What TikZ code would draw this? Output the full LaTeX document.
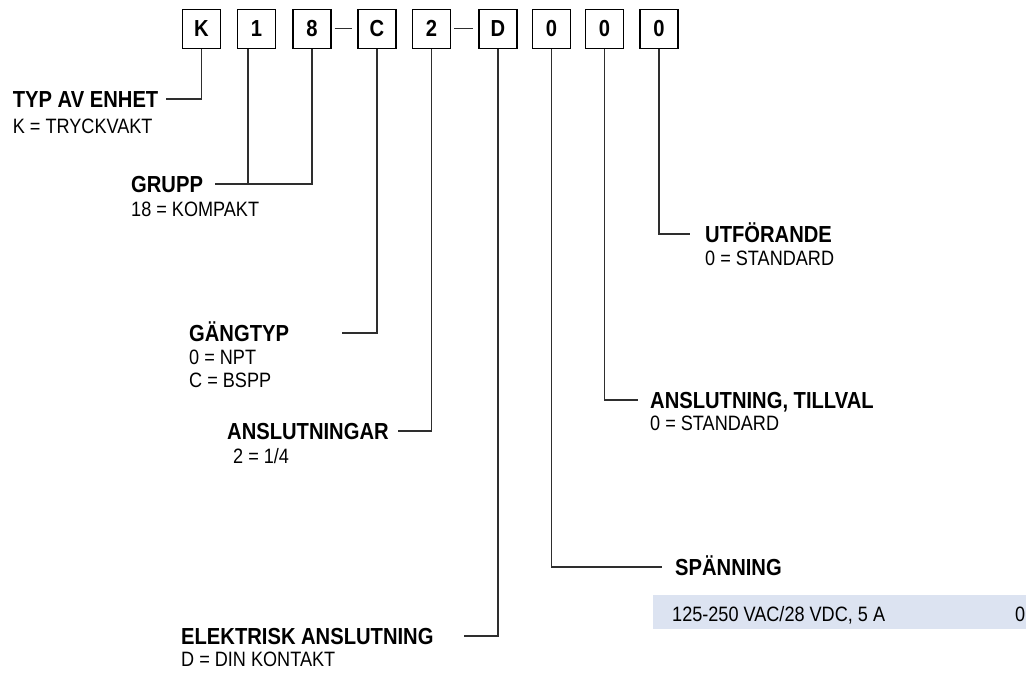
\documentclass[tikz,border=0pt]{standalone}
\usepackage{fontspec}
\setmainfont[FakeStretch=0.87]{Liberation Sans}
\usepackage{tikz}
\definecolor{lineInk}{HTML}{2E2E2E}
\definecolor{voltFill}{HTML}{DCE3F1}
\tikzset{
  digit/.style = {draw=black, line width=1.1pt, minimum width=38pt, minimum height=39pt,
                  inner sep=0pt, font=\bfseries\fontsize{23.2}{27}\selectfont},
  head/.style  = {inner sep=0pt, text height=16.6pt, text depth=0pt, anchor=base west,
                  font=\bfseries\fontsize{23.2}{27}\selectfont},
  sub/.style   = {inner sep=0pt, anchor=base west, font=\fontsize{20.8}{24}\selectfont},
  lead/.style  = {draw=lineInk, line width=1.6pt},
  joint/.style = {draw=lineInk, line width=1.2pt, shorten <=3pt, shorten >=5pt},
  volt/.style  = {fill=voltFill, inner sep=0pt, minimum width=373pt, minimum height=34pt,
                  anchor=north west}
}

\begin{document}
\begin{tikzpicture}[x=1pt, y=-1pt]
  \useasboundingbox (0,0) rectangle (1026,675);
  \node[digit] (bK)  at (201.5,28.8) {K};
  \node[digit] (b1)  at (256.5,28.8) {1};
  \node[digit] (b8)  at (312,28.8)   {8};
  \node[digit] (bC)  at (377,28.8)   {C};
  \node[digit] (b2)  at (431.5,28.8) {2};
  \node[digit] (bD)  at (498,28.8)   {D};
  \node[digit] (b0a) at (551.5,28.8) {0};
  \node[digit] (b0b) at (604.5,28.8) {0};
  \node[digit] (b0c) at (659,28.8)   {0};
  \draw[joint] (b8) -- (bC);
  \draw[joint] (b2) -- (bD);

  \node[head] (tTyp) at (12.7,107) {TYP AV ENHET};
  \node[sub] (sTyp) at ([yshift=-26pt]tTyp.base west) {K = TRYCKVAKT};
  \node[head] (tGrp) at (131,192.5) {GRUPP};
  \node[sub] (sGrp) at ([yshift=-24pt]tGrp.base west) {18 = KOMPAKT};
  \node[head] (tGang) at (189,341) {GÄNGTYP};
  \node[sub] (sGangA) at ([yshift=-23pt]tGang.base west) {0 = NPT};
  \node[sub] (sGangB) at ([yshift=-46pt]tGang.base west) {C = BSPP};
  \node[head] (tAns) at (227,439) {ANSLUTNINGAR};
  \node[sub] (sAns) at ([xshift=6pt,yshift=-24pt]tAns.base west) {2 = 1/4};
  \node[head] (tEl) at (181,644.5) {ELEKTRISK ANSLUTNING};
  \node[sub] (sEl) at ([yshift=-22pt]tEl.base west) {D = DIN KONTAKT};

  \node[head] (tUtf) at (705,242.5) {UTFÖRANDE};
  \node[sub] (sUtf) at ([yshift=-22.5pt]tUtf.base west) {0 = STANDARD};
  \node[head] (tTill) at (650,408) {ANSLUTNING, TILLVAL};
  \node[sub] (sTill) at ([yshift=-22pt]tTill.base west) {0 = STANDARD};
  \node[head] (tSpan) at (675,575) {SPÄNNING};
  \node[volt] (vBox) at (653,595) {};
  \node[sub] (vTxt) at ([xshift=19pt,yshift=-9pt]vBox.west) {125-250 VAC/28 VDC, 5 A};
  \node[sub, anchor=base east] (vCode) at ([xshift=-1pt,yshift=-9pt]vBox.east) {0};

  \coordinate (k1) at ([xshift=-8.5pt]b1.south);
  \draw[lead] (bK.south) |- ([xshift=7pt]tTyp.east);
  \draw[lead] (b8.south) |- ([xshift=12pt]tGrp.east);
  \draw[lead] (k1) -- (k1 |- tGrp.east);
  \draw[lead] (bC.south) |- ([xshift=53pt]tGang.east);
  \draw[lead] (b2.south) |- ([xshift=9pt]tAns.east);
  \draw[lead] (bD.south) |- ([xshift=30pt]tEl.east);
  \draw[lead] (b0a.south) |- ([xshift=-13pt]tSpan.west);
  \draw[lead] (b0b.south) |- ([xshift=-12pt]tTill.west);
  \draw[lead] (b0c.south) |- ([xshift=-15pt]tUtf.west);
\end{tikzpicture}
\end{document}
